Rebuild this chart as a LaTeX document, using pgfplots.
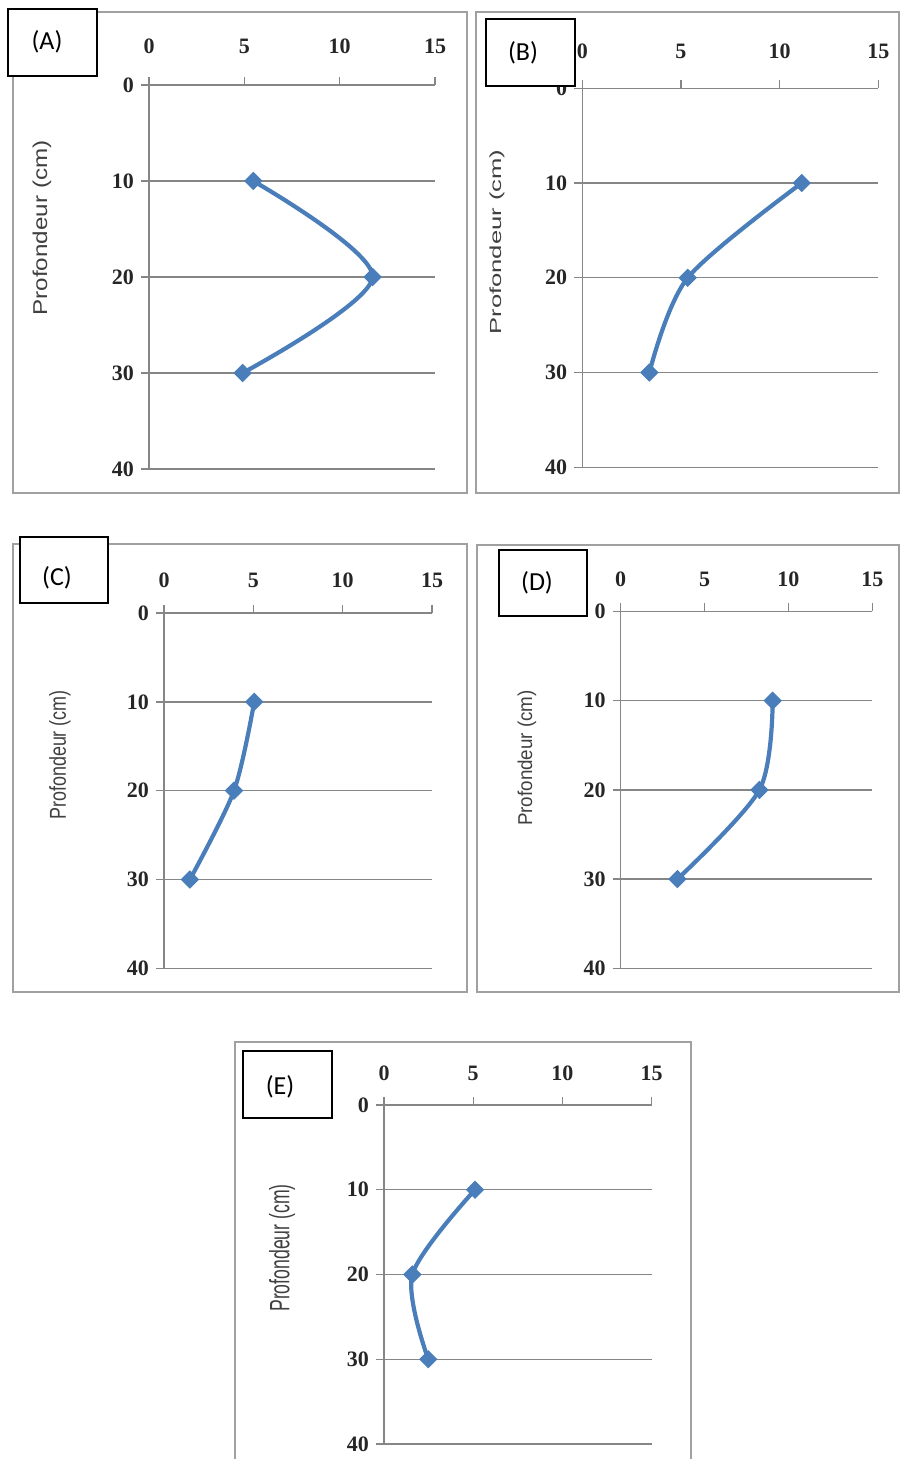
\documentclass[border=0pt]{standalone}
\usepackage{fontspec}
\setmainfont{Liberation Serif}
\newfontfamily\lblfont{Carlito}
\newfontfamily\axfont{Liberation Sans}
\usepackage{pgfplots}
\pgfplotsset{compat=1.18}
\definecolor{gridc}{RGB}{134,134,134}
\definecolor{framec}{RGB}{160,160,160}
\definecolor{lineblue}{RGB}{74,126,187}
\definecolor{labc}{RGB}{64,64,64}
\pgfplotsset{
 panel/.style={
  scale only axis, anchor=south west,
  xmin=0,xmax=15,ymin=0,ymax=40,
  y dir=reverse,
  axis x line=top, axis y line=left,
  axis line style={-, draw=gridc, line width=0.7pt},
  xtick={0,5,10,15}, ytick={0,10,20,30,40},
  ymajorgrids, grid style={draw=gridc, line width=0.7pt},
  tick align=outside, major tick length=4pt,
  tick style={draw=gridc, line width=0.7pt},
  ticklabel style={font=\bfseries\fontsize{11}{13}\selectfont, text=black!85},
  /pgf/number format/assume math mode=true,
 },
 curve/.style={color=lineblue, line width=2.1pt, smooth, mark=square*, mark size=3pt,
   mark options={rotate=45, fill=lineblue, draw=lineblue, line width=0.5pt}},
}
\begin{document}
\begin{tikzpicture}
\begin{scope}[x=0.5pt,y=-0.5pt,shift={(0pt,729.5pt)}]
\path[use as bounding box] (0,0) rectangle (901,1459);
\draw[framec, line width=0.8pt] (13,12) rectangle (467,493);
\draw[framec, line width=0.8pt] (476,12) rectangle (899,493);
\draw[framec, line width=0.8pt] (13,544) rectangle (467,992);
\draw[framec, line width=0.8pt] (477,545) rectangle (899,992);
\draw[framec, line width=0.8pt] (235,1465) -- (235,1042) -- (691,1042) -- (691,1465);
\end{scope}

% (A)
\begin{axis}[panel, at={(74.5pt,495pt)}, width=143pt, height=192pt,
  xticklabel style={yshift=8pt}]
\addplot[curve] coordinates {(5.47,10) (11.73,20) (4.91,30)};
\end{axis}
% (B)
\begin{axis}[panel, at={(291.15pt,495.85pt)}, width=148pt, height=189.5pt,
  xticklabel style={yshift=7.5pt}]
\addplot[curve] coordinates {(11.12,10) (5.34,20) (3.40,30)};
\end{axis}
% (C)
\begin{axis}[panel, at={(82pt,245.35pt)}, width=134pt, height=177.65pt,
  xticklabel style={yshift=5pt}]
\addplot[curve] coordinates {(5.05,10) (3.92,20) (1.45,30)};
\end{axis}
% (D)
\begin{axis}[panel, at={(310.35pt,245.35pt)}, width=125.8pt, height=178.4pt,
  xticklabel style={yshift=5pt}]
\addplot[curve] coordinates {(9.06,10) (8.27,20) (3.38,30)};
\end{axis}
% (E)
\begin{axis}[panel, at={(192pt,7.5pt)}, width=133.85pt, height=169.5pt,
  xticklabel style={yshift=4.5pt}]
\addplot[curve] coordinates {(5.10,10) (1.59,20) (2.48,30)};
\end{axis}

\begin{scope}[x=0.5pt,y=-0.5pt,shift={(0pt,729.5pt)}]
\draw[black, line width=1pt, fill=white] (8,9) rectangle (97,76);
\node[font=\lblfont\fontsize{13}{15}\selectfont] at (47,42) {(A)};
\draw[black, line width=1pt, fill=white] (486,19) rectangle (575,86);
\node[font=\lblfont\fontsize{13}{15}\selectfont] at (523,53) {(B)};
\draw[black, line width=1pt, fill=white] (20,537) rectangle (108,603);
\node[font=\lblfont\fontsize{13}{15}\selectfont] at (57,578) {(C)};
\draw[black, line width=1pt, fill=white] (499,550) rectangle (587,616);
\node[font=\lblfont\fontsize{13}{15}\selectfont] at (537,583) {(D)};
\draw[black, line width=1pt, fill=white] (243,1051) rectangle (332,1118);
\node[font=\lblfont\fontsize{13}{15}\selectfont] at (280,1087) {(E)};

\node[rotate=90, xscale=1.21, text=labc, font=\axfont\fontsize{10}{12}\selectfont] at (42,228) {Profondeur (cm)};
\node[rotate=90, xscale=1.6, text=labc, font=\axfont\fontsize{8}{10}\selectfont] at (497,242) {Profondeur (cm)};
\node[rotate=90, xscale=0.78, text=labc, font=\axfont\fontsize{11.5}{13}\selectfont] at (60,755) {Profondeur (cm)};
\node[rotate=90, xscale=0.94, text=labc, font=\axfont\fontsize{10}{12}\selectfont] at (527,758) {Profondeur (cm)};
\node[rotate=90, xscale=0.63, text=labc, font=\axfont\fontsize{14}{16}\selectfont] at (282,1248) {Profondeur (cm)};
\end{scope}
\end{tikzpicture}
\end{document}
